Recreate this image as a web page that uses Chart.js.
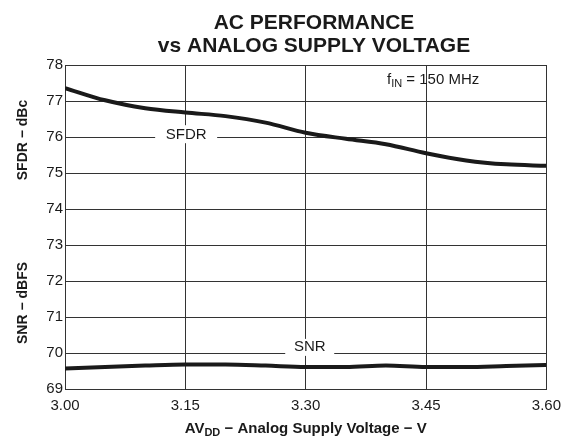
<!DOCTYPE html>
<html>
<head>
<meta charset="utf-8">
<script src="https://cdn.jsdelivr.net/npm/chart.js@4.4.1/dist/chart.umd.min.js"></script>
<style>
  html, body { margin: 0; padding: 0; background: #fff; }
  #wrap { width: 569px; height: 440px; }
</style>
</head>
<body>
<div id="wrap"><canvas id="chart" width="569" height="440"></canvas></div>
<script>
// supply voltage points (V)
const voltages = [3.00, 3.05, 3.10, 3.15, 3.20, 3.25, 3.30, 3.35, 3.40, 3.45, 3.50, 3.55, 3.60];
// SFDR (dBc)
const sfdr = [77.36, 77.02, 76.80, 76.68, 76.58, 76.40, 76.12, 75.95, 75.80, 75.55, 75.35, 75.24, 75.20];
// SNR (dBFS)
const snr = [69.57, 69.61, 69.65, 69.68, 69.68, 69.65, 69.61, 69.61, 69.65, 69.61, 69.61, 69.64, 69.67];

const xTicks = [3.00, 3.15, 3.30, 3.45, 3.60];
const yMin = 69, yMax = 78;

const FONT = '"Liberation Sans", Arial, Helvetica, sans-serif';
const INK = '#1a1a1a';

// text drawn on top of the chart: titles, axis titles, curve labels
const textPlugin = {
  id: 'textPlugin',
  afterDraw(chart) {
    const ctx = chart.ctx;
    const xs = chart.scales.x, ys = chart.scales.y;
    ctx.save();
    ctx.fillStyle = INK;
    ctx.textAlign = 'center';
    ctx.textBaseline = 'middle';

    // chart title
    ctx.font = 'bold 21px ' + FONT;
    ctx.fillText('AC PERFORMANCE', 314, 23);
    ctx.fillText('vs ANALOG SUPPLY VOLTAGE', 314, 46);

    // x axis title with subscript
    const p1 = 'AV', sub = 'DD', p2 = ' \u2212 Analog Supply Voltage \u2212 V';
    ctx.font = 'bold 15px ' + FONT;
    const w1 = ctx.measureText(p1).width, w3 = ctx.measureText(p2).width;
    ctx.font = 'bold 11px ' + FONT;
    const w2 = ctx.measureText(sub).width;
    let x0 = (xs.left + xs.right) / 2 - (w1 + w2 + w3) / 2;
    const ty = 429;
    ctx.textAlign = 'left';
    ctx.font = 'bold 15px ' + FONT;
    ctx.fillText(p1, x0, ty);
    ctx.font = 'bold 11px ' + FONT;
    ctx.fillText(sub, x0 + w1, ty + 4);
    ctx.font = 'bold 15px ' + FONT;
    ctx.fillText(p2, x0 + w1 + w2, ty);

    // y axis titles (rotated)
    ctx.textAlign = 'center';
    ctx.font = 'bold 14px ' + FONT;
    [['SFDR \u2212 dBc', 140], ['SNR \u2212 dBFS', 303]].forEach(([t, y]) => {
      ctx.save();
      ctx.translate(23, y);
      ctx.rotate(-Math.PI / 2);
      ctx.fillText(t, 0, 0);
      ctx.restore();
    });

    // curve labels sitting on grid lines, with a white box behind
    ctx.font = '15px ' + FONT;
    const boxed = (t, xv, yv, w, top, h) => {
      const px = xs.getPixelForValue(xv), py = ys.getPixelForValue(yv);
      ctx.fillStyle = '#fff';
      ctx.fillRect(px - w / 2, py + top, w, h);
      ctx.fillStyle = INK;
      ctx.fillText(t, px, py);
    };
    boxed('SFDR', 3.151, 76.05, 62, -10, 18);
    boxed('SNR', 3.305, 70.17, 49, -8, 17);

    // f_IN = 150 MHz
    ctx.textAlign = 'left';
    let fx = 387, fy = 80;
    ctx.font = '15px ' + FONT;
    ctx.fillText('f', fx, fy);
    fx += ctx.measureText('f').width;
    ctx.font = '11px ' + FONT;
    ctx.fillText('IN', fx, fy + 4);
    fx += ctx.measureText('IN').width;
    ctx.font = '15px ' + FONT;
    ctx.fillText(' = 150 MHz', fx, fy);
    ctx.restore();
  }
};

const toPoints = arr => arr.map((v, i) => ({ x: voltages[i], y: v }));

new Chart(document.getElementById('chart'), {
  type: 'line',
  data: {
    datasets: [
      { label: 'SFDR', data: toPoints(sfdr) },
      { label: 'SNR', data: toPoints(snr) }
    ]
  },
  options: {
    responsive: false,
    animation: false,
    layout: { padding: { top: 65, right: 21, left: 0, bottom: 0 } },
    elements: {
      line: { borderColor: INK, borderWidth: 4, tension: 0.35, cubicInterpolationMode: 'monotone' },
      point: { radius: 0 }
    },
    plugins: {
      legend: { display: false },
      tooltip: { enabled: false }
    },
    scales: {
      x: {
        type: 'linear',
        min: 3.0,
        max: 3.6,
        afterBuildTicks: s => { s.ticks = xTicks.map(v => ({ value: v })); },
        afterFit: s => { s.height = 51; },
        ticks: {
          color: INK,
          padding: 8,
          font: { family: FONT, size: 15 },
          callback: v => Number(v).toFixed(2)
        },
        grid: { color: '#333', lineWidth: 1, drawTicks: false },
        border: { color: '#333', width: 1 }
      },
      y: {
        min: yMin,
        max: yMax,
        afterFit: s => { s.width = 65; },
        ticks: {
          stepSize: 1,
          color: INK,
          padding: 2,
          font: { family: FONT, size: 15 }
        },
        grid: { color: '#333', lineWidth: 1, drawTicks: false },
        border: { color: '#333', width: 1 }
      }
    }
  },
  plugins: [textPlugin]
});
</script>
</body>
</html>
